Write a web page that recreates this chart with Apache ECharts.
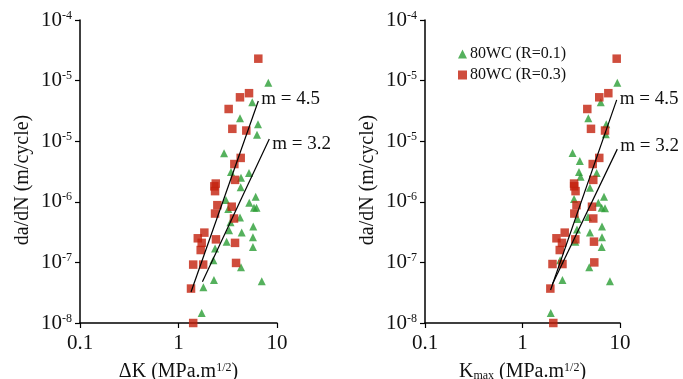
<!DOCTYPE html>
<html>
<head>
<meta charset="utf-8">
<script src="https://cdn.jsdelivr.net/npm/echarts@6/dist/echarts.min.js"></script>
<style>
  html, body { margin: 0; padding: 0; background: #fff; }
  #chart { width: 683px; height: 379px; }
</style>
</head>
<body>
<div id="chart"></div>
<script>
// tick labels as printed in the figure (the duplicated 10^-5 is in the original)
const yTickLabels = [['10', '-8'], ['10', '-7'], ['10', '-6'], ['10', '-5'], ['10', '-5'], ['10', '-4']];
const xTickLabels = { 0.1: '0.1', 1: '1', 10: '10' };

const seriesNames = ['80WC (R=0.1)', '80WC (R=0.3)'];

// left panel: da/dN vs delta K
const dkR01 = [
  [8.16, 9.2e-5], [5.61, 4.4e-5], [4.21, 2.4e-5], [6.41, 1.9e-5], [6.27, 1.28e-5],
  [2.90, 6.3e-6], [5.20, 3.0e-6], [4.31, 2.5e-6], [3.41, 3.1e-6], [4.28, 1.73e-6],
  [6.08, 1.21e-6], [5.23, 9.6e-7], [6.19, 8.0e-7], [5.84, 8.0e-7], [3.03, 1.07e-6],
  [3.20, 7.6e-7], [3.37, 4.6e-7], [4.21, 5.5e-7], [3.26, 3.4e-7], [4.38, 3.1e-7],
  [5.74, 3.9e-7], [5.70, 2.6e-7], [5.70, 1.8e-7], [3.08, 2.2e-7], [2.35, 1.7e-7],
  [2.26, 1.09e-7], [4.31, 8.3e-8], [2.29, 5.1e-8], [1.79, 3.9e-8], [7.00, 4.9e-8],
  [1.72, 1.46e-8]
];
const dkR03 = [
  [6.46, 2.3e-4], [5.20, 6.2e-5], [4.21, 5.3e-5], [3.23, 3.4e-5], [3.52, 1.6e-5],
  [4.88, 1.5e-5], [4.28, 5.3e-6], [3.69, 4.2e-6], [2.39, 2.0e-6], [3.75, 2.3e-6],
  [2.31, 1.8e-6], [2.35, 1.5e-6], [2.48, 8.8e-7], [2.35, 6.4e-7], [3.47, 8.3e-7],
  [3.66, 5.3e-7], [1.83, 3.1e-7], [1.57, 2.5e-7], [1.72, 2.1e-7], [1.68, 1.6e-7],
  [2.40, 2.4e-7], [3.75, 2.1e-7], [1.41, 9.2e-8], [1.78, 9.2e-8], [3.84, 9.8e-8],
  [1.34, 3.7e-8], [1.41, 1.0e-8]
];
const dkFit45 = [[1.34, 3.25e-8], [6.46, 4.6e-5]];
const dkFit32 = [[1.75, 4.8e-8], [8.35, 1.09e-5]];

// right panel: da/dN vs Kmax
const kmaxR01 = [
  [9.38, 9.2e-5], [6.35, 4.4e-5], [4.73, 2.4e-5], [7.23, 1.9e-5], [7.15, 1.3e-5],
  [3.26, 6.4e-6], [3.87, 4.7e-6], [3.80, 3.1e-6], [3.94, 2.6e-6], [5.77, 3.0e-6],
  [4.92, 1.7e-6], [6.85, 1.21e-6], [5.99, 9.6e-7], [6.49, 8.0e-7], [7.02, 7.8e-7],
  [3.38, 1.11e-6], [3.68, 5.2e-7], [4.70, 5.6e-7], [3.62, 3.5e-7], [4.92, 3.1e-7],
  [6.54, 3.9e-7], [6.54, 2.6e-7], [6.49, 1.8e-7], [3.48, 2.2e-7], [2.43, 1.09e-7],
  [4.84, 8.3e-8], [2.57, 5.1e-8], [7.89, 4.9e-8], [1.95, 1.46e-8]
];
const kmaxR03 = [
  [9.25, 2.3e-4], [7.59, 6.2e-5], [6.13, 5.3e-5], [4.62, 3.4e-5], [5.04, 1.6e-5],
  [7.02, 1.5e-5], [6.13, 5.3e-6], [5.25, 4.2e-6], [5.32, 2.3e-6], [3.38, 2.0e-6],
  [3.39, 1.8e-6], [3.50, 1.5e-6], [3.58, 8.8e-7], [3.40, 6.4e-7], [5.16, 8.3e-7],
  [5.32, 5.3e-7], [2.71, 3.1e-7], [2.23, 2.5e-7], [2.54, 2.1e-7], [2.41, 1.6e-7],
  [3.48, 2.4e-7], [5.41, 2.2e-7], [2.03, 9.4e-8], [2.57, 9.4e-8], [5.45, 1.0e-7],
  [1.93, 3.7e-8], [2.07, 1.0e-8]
];
const kmaxFit45 = [[1.94, 3.5e-8], [9.25, 4.8e-5]];
const kmaxFit32 = [[2.03, 4.4e-8], [9.38, 7.4e-6]];

const slopeLabels = ['m = 4.5', 'm = 3.2'];

const FONT = '"Liberation Serif", "Times New Roman", serif';
const RED = '#c3200c';
const GREEN = '#2a9e35';

const chart = echarts.init(document.getElementById('chart'), null, { renderer: 'canvas' });

function yLabel(v) {
  const i = Math.round(Math.log10(v) + 8);
  const t = yTickLabels[i];
  return t ? '{b|' + t[0] + '}{s|' + t[1] + '}' : '';
}

function xAxisFor(gridIndex, name) {
  return {
    type: 'log', logBase: 10, gridIndex, min: 0.1, max: 10, splitNumber: 2,
    name, nameLocation: 'middle', nameGap: 39,
    nameTextStyle: {
      fontFamily: FONT, fontSize: 20, color: '#111',
      rich: {
        sup: { fontFamily: FONT, fontSize: 12, verticalAlign: 'top', color: '#111', padding: [0, 0, 8, 0] },
        sub: { fontFamily: FONT, fontSize: 12, color: '#111', padding: [8, 0, 0, 0] }
      }
    },
    axisLine: { lineStyle: { color: '#000', width: 1.5 } },
    axisTick: { length: 5, lineStyle: { color: '#000', width: 1.2 } },
    axisLabel: {
      fontFamily: FONT, fontSize: 21, color: '#111', margin: 10,
      formatter: v => xTickLabels[Math.round(v * 10) / 10] || ''
    },
    splitLine: { show: false },
    minorTick: { show: false }
  };
}

function yAxisFor(gridIndex) {
  return {
    type: 'log', logBase: 10, gridIndex, min: 1e-8, max: 1e-3, splitNumber: 5,
    name: 'da/dN (m/cycle)', nameLocation: 'middle', nameGap: 47,
    nameTextStyle: { fontFamily: FONT, fontSize: 20, color: '#111', padding: [0, 17, 0, 0] },
    axisLine: { lineStyle: { color: '#000', width: 1.5 } },
    axisTick: { length: 5, lineStyle: { color: '#000', width: 1.2 } },
    axisLabel: {
      fontFamily: FONT, color: '#111', margin: 8,
      formatter: yLabel,
      rich: {
        b: { fontFamily: FONT, fontSize: 21, color: '#111' },
        s: { fontFamily: FONT, fontSize: 12, color: '#111', verticalAlign: 'top', padding: [0, 0, 8, 0] }
      }
    },
    splitLine: { show: false },
    minorTick: { show: false }
  };
}

function fitSeries(idx, data, text, offset) {
  return {
    type: 'line', xAxisIndex: idx, yAxisIndex: idx, silent: true,
    symbol: 'none', z: 5, clip: false,
    lineStyle: { color: '#000', width: 1.2 },
    endLabel: {
      show: true, distance: 3, offset,
      formatter: text, fontFamily: FONT, fontSize: 19, color: '#111'
    },
    data
  };
}

function scatter(idx, name, data, symbol, color, size) {
  return {
    type: 'scatter', name, xAxisIndex: idx, yAxisIndex: idx,
    symbol, symbolSize: size, itemStyle: { color }, data
  };
}

chart.setOption({
  backgroundColor: '#fff',
  animation: false,
  grid: [
    { left: 80, top: 20, width: 197, height: 303, outerBoundsMode: 'none' },
    { left: 425, top: 20, width: 195, height: 303, outerBoundsMode: 'none' }
  ],
  legend: {
    left: 453, top: 41, orient: 'vertical', itemGap: 5,
    itemWidth: 9, itemHeight: 9,
    textStyle: { fontFamily: FONT, fontSize: 16, color: '#111', padding: [0, 0, 0, -2] },
    data: [
      { name: seriesNames[0], icon: 'triangle' },
      { name: seriesNames[1], icon: 'rect' }
    ]
  },
  xAxis: [
    xAxisFor(0, 'ΔK (MPa.m{sup|1/2})'),
    xAxisFor(1, 'K{sub|max} (MPa.m{sup|1/2})')
  ],
  yAxis: [yAxisFor(0), yAxisFor(1)],
  series: [
    scatter(0, seriesNames[0], dkR01, 'triangle', GREEN, 8),
    scatter(0, seriesNames[1], dkR03, 'rect', RED, 8.5),
    fitSeries(0, dkFit45, slopeLabels[0], [0, -2]),
    fitSeries(0, dkFit32, slopeLabels[1], [0, 5]),
    scatter(1, seriesNames[0], kmaxR01, 'triangle', GREEN, 8),
    scatter(1, seriesNames[1], kmaxR03, 'rect', RED, 8.5),
    fitSeries(1, kmaxFit45, slopeLabels[0], [0, -1]),
    fitSeries(1, kmaxFit32, slopeLabels[1], [0, -3])
  ]
});
</script>
</body>
</html>
